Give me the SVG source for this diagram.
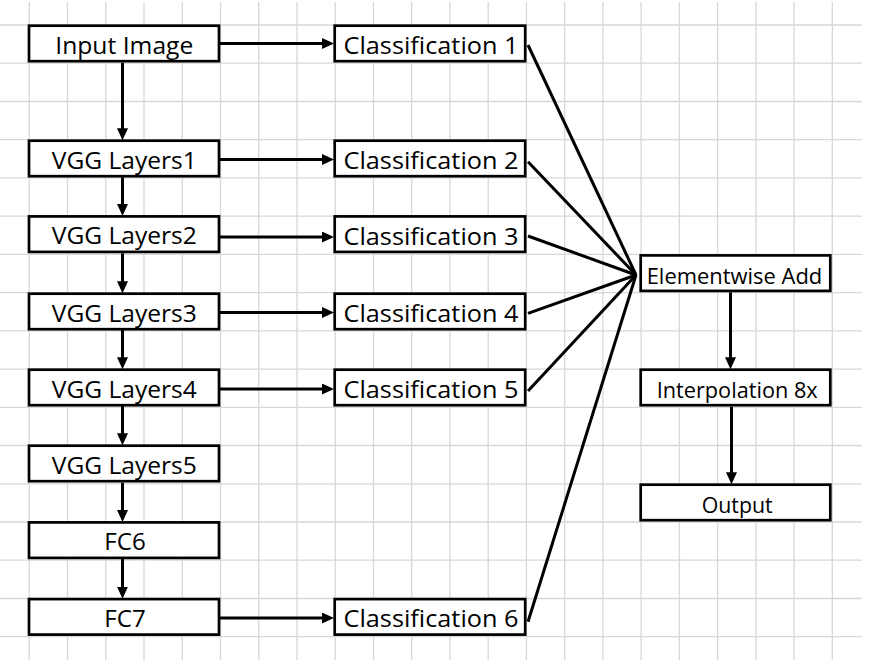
<svg xmlns="http://www.w3.org/2000/svg" width="873" height="672" viewBox="0 0 873 672">
<style>
.grid{stroke:#d8d8d8;stroke-width:1.3;fill:none}
.box{fill:#fff;stroke:#000;stroke-width:2.7}
.t{font-family:"Open Sans","Liberation Sans",sans-serif;font-size:23px;fill:#000;text-anchor:middle}
.ts{font-size:21px}
.c{stroke:#000;stroke-width:3;fill:none}
.a{marker-end:url(#arr)}
</style>
<defs>
<marker id="arr" markerUnits="userSpaceOnUse" markerWidth="12" markerHeight="11" refX="5" refY="5.5" orient="auto">
<path d="M0,0 L12,5.5 L0,11 Z" fill="#000"/>
</marker>
</defs>
<rect width="873" height="672" fill="#fff"/>
<g id="grid" class="grid">
<path d="M29.3,2V660M67.5,2V660M105.8,2V660M144,2V660M182.3,2V660M220.5,2V660M258.7,2V660M297,2V660M335.2,2V660M373.5,2V660M411.7,2V660M449.9,2V660M488.2,2V660M526.4,2V660M564.7,2V660M602.9,2V660M641.1,2V660M679.4,2V660M717.6,2V660M755.9,2V660M794.1,2V660M832.3,2V660"/>
<path d="M0,25H862M0,63.2H862M0,101.5H862M0,139.7H862M0,177.9H862M0,216.2H862M0,254.4H862M0,292.6H862M0,330.8H862M0,369.1H862M0,407.3H862M0,445.5H862M0,483.8H862M0,522H862M0,560.2H862M0,598.5H862M0,636.7H862"/>
</g>
<g id="connectors">
<line class="c a" x1="220" y1="43.5" x2="327" y2="43.5"/>
<line class="c a" x1="220" y1="159.5" x2="327" y2="159.5"/>
<line class="c a" x1="220" y1="237" x2="327" y2="237"/>
<line class="c a" x1="220" y1="312.5" x2="327" y2="312.5"/>
<line class="c a" x1="220" y1="389" x2="327" y2="389"/>
<line class="c a" x1="220" y1="618" x2="327" y2="618"/>
<line class="c a" x1="122.5" y1="62.7" x2="122.5" y2="133.3"/>
<line class="c a" x1="122.5" y1="177.3" x2="122.5" y2="209"/>
<line class="c a" x1="122.5" y1="253.3" x2="122.5" y2="286.3"/>
<line class="c a" x1="122.5" y1="330" x2="122.5" y2="362.3"/>
<line class="c a" x1="122.5" y1="406" x2="122.5" y2="438.3"/>
<line class="c a" x1="122.5" y1="482.7" x2="122.5" y2="515"/>
<line class="c a" x1="122.5" y1="559" x2="122.5" y2="591.7"/>
<line class="c a" x1="730.5" y1="292.3" x2="730.5" y2="362.3"/>
<line class="c a" x1="731.5" y1="406.7" x2="731.5" y2="477.3"/>
<line class="c" x1="528" y1="45" x2="636" y2="275"/>
<line class="c" x1="528" y1="161.7" x2="636" y2="275"/>
<line class="c" x1="528" y1="236" x2="636" y2="275"/>
<line class="c" x1="528" y1="313.3" x2="636" y2="275"/>
<line class="c" x1="528" y1="391" x2="636" y2="275"/>
<line class="c" x1="528" y1="621.7" x2="636" y2="275"/>
</g>
<g id="input-image"><rect class="box" x="29" y="25.7" width="190" height="35.5"/><text class="t" x="124.3" y="53.5" textLength="138" lengthAdjust="spacingAndGlyphs">Input Image</text></g>
<g id="vgg1"><rect class="box" x="29" y="140.7" width="190" height="35.5"/><text class="t" x="124.3" y="168.5" textLength="145" lengthAdjust="spacingAndGlyphs">VGG Layers1</text></g>
<g id="vgg2"><rect class="box" x="29" y="216.4" width="190" height="35.5"/><text class="t" x="124.3" y="244.2" textLength="145" lengthAdjust="spacingAndGlyphs">VGG Layers2</text></g>
<g id="vgg3"><rect class="box" x="29" y="293.7" width="190" height="35.5"/><text class="t" x="124.3" y="321.5" textLength="145" lengthAdjust="spacingAndGlyphs">VGG Layers3</text></g>
<g id="vgg4"><rect class="box" x="29" y="369.7" width="190" height="35.5"/><text class="t" x="124.3" y="397.5" textLength="145" lengthAdjust="spacingAndGlyphs">VGG Layers4</text></g>
<g id="vgg5"><rect class="box" x="29" y="445.7" width="190" height="35.5"/><text class="t" x="124.3" y="473.5" textLength="145" lengthAdjust="spacingAndGlyphs">VGG Layers5</text></g>
<g id="fc6"><rect class="box" x="29" y="522.4" width="190" height="35.5"/><text class="t" x="125" y="550.2" textLength="41.4" lengthAdjust="spacingAndGlyphs">FC6</text></g>
<g id="fc7"><rect class="box" x="29" y="599.1" width="190" height="35.5"/><text class="t" x="125" y="626.9" textLength="41.4" lengthAdjust="spacingAndGlyphs">FC7</text></g>
<g id="cls1"><rect class="box" x="334.7" y="25.7" width="190.5" height="35.5"/><text class="t" x="431" y="53.8" textLength="175" lengthAdjust="spacingAndGlyphs">Classification 1</text></g>
<g id="cls2"><rect class="box" x="334.7" y="140.7" width="190.5" height="35.5"/><text class="t" x="431" y="168.8" textLength="175" lengthAdjust="spacingAndGlyphs">Classification 2</text></g>
<g id="cls3"><rect class="box" x="334.7" y="216.4" width="190.5" height="35.5"/><text class="t" x="431" y="244.5" textLength="175" lengthAdjust="spacingAndGlyphs">Classification 3</text></g>
<g id="cls4"><rect class="box" x="334.7" y="293.7" width="190.5" height="35.5"/><text class="t" x="431" y="321.8" textLength="175" lengthAdjust="spacingAndGlyphs">Classification 4</text></g>
<g id="cls5"><rect class="box" x="334.7" y="369.7" width="190.5" height="35.5"/><text class="t" x="431" y="397.8" textLength="175" lengthAdjust="spacingAndGlyphs">Classification 5</text></g>
<g id="cls6"><rect class="box" x="334.7" y="599.1" width="190.5" height="35.5"/><text class="t" x="431" y="627.2" textLength="175" lengthAdjust="spacingAndGlyphs">Classification 6</text></g>
<g id="elementwise-add"><rect class="box" x="640.7" y="255.4" width="189.6" height="35.5"/><text class="t ts" x="734.5" y="284" textLength="175.6" lengthAdjust="spacingAndGlyphs">Elementwise Add</text></g>
<g id="interpolation"><rect class="box" x="640.7" y="369.7" width="189.6" height="35.5"/><text class="t ts" x="737.2" y="397.8" textLength="161" lengthAdjust="spacingAndGlyphs">Interpolation 8x</text></g>
<g id="output"><rect class="box" x="640.7" y="484.7" width="189.6" height="35.5"/><text class="t ts" x="737.2" y="513.2" textLength="71" lengthAdjust="spacingAndGlyphs">Output</text></g>
</svg>
